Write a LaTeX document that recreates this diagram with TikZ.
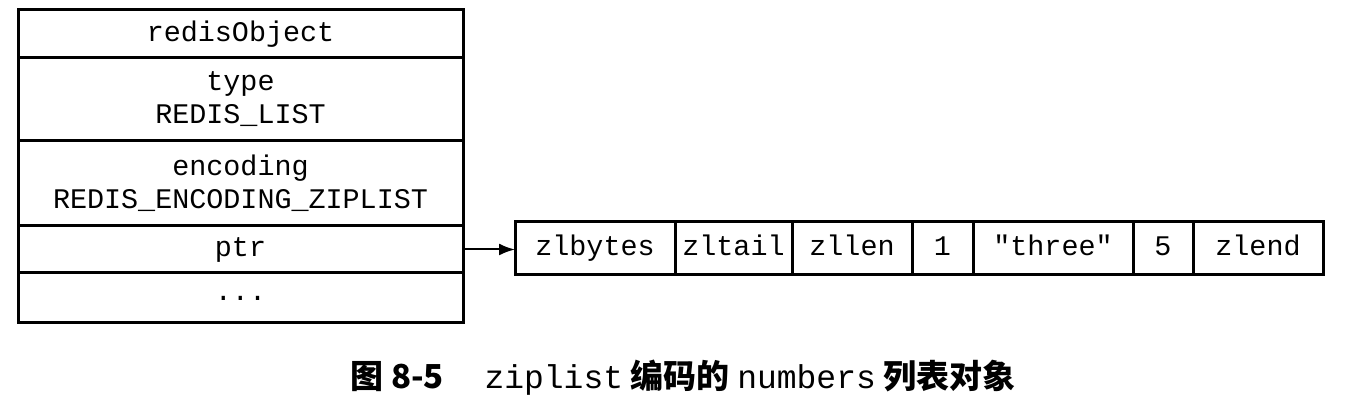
\documentclass[tikz,border=0pt]{standalone}
\usepackage{fontspec}
\setmonofont{Liberation Mono}
\newfontfamily\cjk{Noto Sans CJK SC}
\usetikzlibrary{arrows.meta}

\tikzstyle{px}=[x=0.5pt,y=-0.5pt]
\tikzstyle{field}=[draw,line width=1.5pt,rectangle,inner sep=0pt,outer sep=0pt,
  align=center,font=\fontsize{14.2}{16.5}\selectfont\ttfamily]
\tikzstyle{cell}=[field,text height=9.5pt,text depth=2.5pt,minimum height=26.5pt]

\begin{document}
\begin{tikzpicture}[style=px]
\useasboundingbox (0,0) rectangle (1346,406);

% redisObject
\node[field,minimum width=222.5pt,minimum height=24pt] (obj) at (240.5,34) {redisObject};
\node[field,minimum width=222.5pt,minimum height=41.5pt] (type) at (240.5,99.5) {type\\REDIS\_LIST};
\node[field,minimum width=222.5pt,minimum height=42.5pt] (enc) at (240.5,183.5) {encoding\\REDIS\_ENCODING\_ZIPLIST};
\node[field,minimum width=222.5pt,minimum height=23.5pt,text height=9.5pt,text depth=2.5pt] (ptr) at (240.5,249.5) {ptr};
\node[field,minimum width=222.5pt,minimum height=25pt] (more) at (240.5,298) {...};

% ziplist
\foreach \name/\txt/\l/\r in {zlbytes/zlbytes/515/675,zltail/zltail/675/792,
    zllen/zllen/792/912,one/1/912/973,three/"three"/973/1133,five/5/1133/1193,
    zlend/zlend/1193/1323}{%
    \node[cell,minimum width={(\r-\l)*0.5pt}] (\name) at ({(\l+\r)/2},248.5) {\txt};
}

\draw[-{Latex[length=8pt,width=6pt]},line width=1pt] (ptr.east) -- (ptr.east -| zlbytes.west);

\node (caption) at (683,378) {\cjk\bfseries\fontsize{16.5}{19}\selectfont 图 8-5\quad\
  {\ttfamily\mdseries ziplist} 编码的 {\ttfamily\mdseries numbers} 列表对象};

\end{tikzpicture}
\end{document}
